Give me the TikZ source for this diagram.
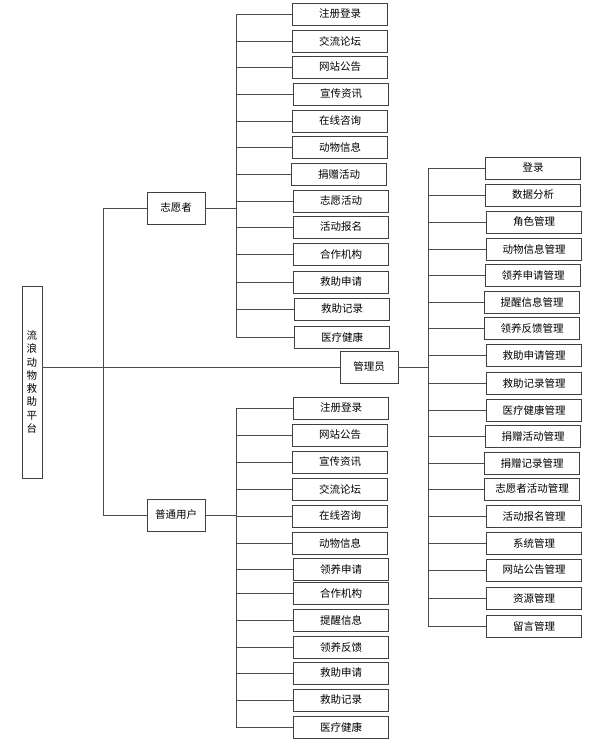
\documentclass[tikz,border=0pt]{standalone}
\usepackage{fontspec}
\newfontfamily\cjk{Noto Sans CJK SC}
\usetikzlibrary{positioning}

\tikzset{
  box/.style={shape=rectangle,draw=black!75,align=center,line width=0.8pt,inner sep=0pt,
    font=\cjk\fontsize{10.5}{12}\selectfont},
  item/.style={box,minimum width=95,minimum height=22},
  role/.style={box,minimum width=58,minimum height=32},
  link/.style={draw=black!70,line width=0.8pt}
}

\begin{document}
\begin{tikzpicture}[x=1pt,y=-1pt]
\useasboundingbox (0,0) rectangle (604,745);

\node[box,minimum width=20,minimum height=192,font=\cjk\fontsize{10.5}{13.3}\selectfont] (root) at (32,382) {流\\浪\\动\\物\\救\\助\\平\\台};

\node[role] (vol) at (176,208) {志愿者};
\node[role] (user) at (176,515) {普通用户};
\node[role] (admin) at (369,367) {管理员};

% volunteer
\node[item] (v1) at (340,14) {注册登录};
\node[item] (v2) at (340,41) {交流论坛};
\node[item] (v3) at (340,67) {网站公告};
\node[item] (v4) at (341,94) {宣传资讯};
\node[item] (v5) at (340,121) {在线咨询};
\node[item] (v6) at (340,147) {动物信息};
\node[item] (v7) at (339,174) {捐赠活动};
\node[item] (v8) at (341,201) {志愿活动};
\node[item] (v9) at (341,227) {活动报名};
\node[item] (v10) at (341,254) {合作机构};
\node[item] (v11) at (341,282) {救助申请};
\node[item] (v12) at (342,309) {救助记录};
\node[item] (v13) at (342,337) {医疗健康};

% user
\node[item] (u1) at (341,408) {注册登录};
\node[item] (u2) at (340,435) {网站公告};
\node[item] (u3) at (340,462) {宣传资讯};
\node[item] (u4) at (340,489) {交流论坛};
\node[item] (u5) at (340,516) {在线咨询};
\node[item] (u6) at (340,543) {动物信息};
\node[item] (u7) at (341,569) {领养申请};
\node[item] (u8) at (341,593) {合作机构};
\node[item] (u9) at (341,620) {提醒信息};
\node[item] (u10) at (341,647) {领养反馈};
\node[item] (u11) at (341,673) {救助申请};
\node[item] (u12) at (341,700) {救助记录};
\node[item] (u13) at (341,727) {医疗健康};

% admin
\node[item] (a1) at (533,168) {登录};
\node[item] (a2) at (533,195) {数据分析};
\node[item] (a3) at (534,222) {角色管理};
\node[item] (a4) at (534,249) {动物信息管理};
\node[item] (a5) at (533,275) {领养申请管理};
\node[item] (a6) at (532,302) {提醒信息管理};
\node[item] (a7) at (532,328) {领养反馈管理};
\node[item] (a8) at (534,355) {救助申请管理};
\node[item] (a9) at (534,383) {救助记录管理};
\node[item] (a10) at (534,410) {医疗健康管理};
\node[item] (a11) at (533,436) {捐赠活动管理};
\node[item] (a12) at (532,463) {捐赠记录管理};
\node[item] (a13) at (532,489) {志愿者活动管理};
\node[item] (a14) at (534,516) {活动报名管理};
\node[item] (a15) at (534,543) {系统管理};
\node[item] (a16) at (534,570) {网站公告管理};
\node[item] (a17) at (534,598) {资源管理};
\node[item] (a18) at (534,626) {留言管理};

\path[link] (admin.west -| root.east) -- ++(61,0) |- (vol.west);
\path[link] (admin.west -| root.east) -- ++(61,0) |- (user.west);
\path[link] (admin.west -| root.east) -- (admin.west);

\path[link] (vol.east) -- ++(31,0) |- (v1.west);
\path[link] (vol.east) -- ++(31,0) |- (v2.west);
\path[link] (vol.east) -- ++(31,0) |- (v3.west);
\path[link] (vol.east) -- ++(31,0) |- (v4.west);
\path[link] (vol.east) -- ++(31,0) |- (v5.west);
\path[link] (vol.east) -- ++(31,0) |- (v6.west);
\path[link] (vol.east) -- ++(31,0) |- (v7.west);
\path[link] (vol.east) -- ++(31,0) |- (v8.west);
\path[link] (vol.east) -- ++(31,0) |- (v9.west);
\path[link] (vol.east) -- ++(31,0) |- (v10.west);
\path[link] (vol.east) -- ++(31,0) |- (v11.west);
\path[link] (vol.east) -- ++(31,0) |- (v12.west);
\path[link] (vol.east) -- ++(31,0) |- (v13.west);

\path[link] (user.east) -- ++(31,0) |- (u1.west);
\path[link] (user.east) -- ++(31,0) |- (u2.west);
\path[link] (user.east) -- ++(31,0) |- (u3.west);
\path[link] (user.east) -- ++(31,0) |- (u4.west);
\path[link] (user.east) -- ++(31,0) |- (u5.west);
\path[link] (user.east) -- ++(31,0) |- (u6.west);
\path[link] (user.east) -- ++(31,0) |- (u7.west);
\path[link] (user.east) -- ++(31,0) |- (u8.west);
\path[link] (user.east) -- ++(31,0) |- (u9.west);
\path[link] (user.east) -- ++(31,0) |- (u10.west);
\path[link] (user.east) -- ++(31,0) |- (u11.west);
\path[link] (user.east) -- ++(31,0) |- (u12.west);
\path[link] (user.east) -- ++(31,0) |- (u13.west);

\path[link] (admin.east) -- ++(30,0) |- (a1.west);
\path[link] (admin.east) -- ++(30,0) |- (a2.west);
\path[link] (admin.east) -- ++(30,0) |- (a3.west);
\path[link] (admin.east) -- ++(30,0) |- (a4.west);
\path[link] (admin.east) -- ++(30,0) |- (a5.west);
\path[link] (admin.east) -- ++(30,0) |- (a6.west);
\path[link] (admin.east) -- ++(30,0) |- (a7.west);
\path[link] (admin.east) -- ++(30,0) |- (a8.west);
\path[link] (admin.east) -- ++(30,0) |- (a9.west);
\path[link] (admin.east) -- ++(30,0) |- (a10.west);
\path[link] (admin.east) -- ++(30,0) |- (a11.west);
\path[link] (admin.east) -- ++(30,0) |- (a12.west);
\path[link] (admin.east) -- ++(30,0) |- (a13.west);
\path[link] (admin.east) -- ++(30,0) |- (a14.west);
\path[link] (admin.east) -- ++(30,0) |- (a15.west);
\path[link] (admin.east) -- ++(30,0) |- (a16.west);
\path[link] (admin.east) -- ++(30,0) |- (a17.west);
\path[link] (admin.east) -- ++(30,0) |- (a18.west);
\end{tikzpicture}
\end{document}
